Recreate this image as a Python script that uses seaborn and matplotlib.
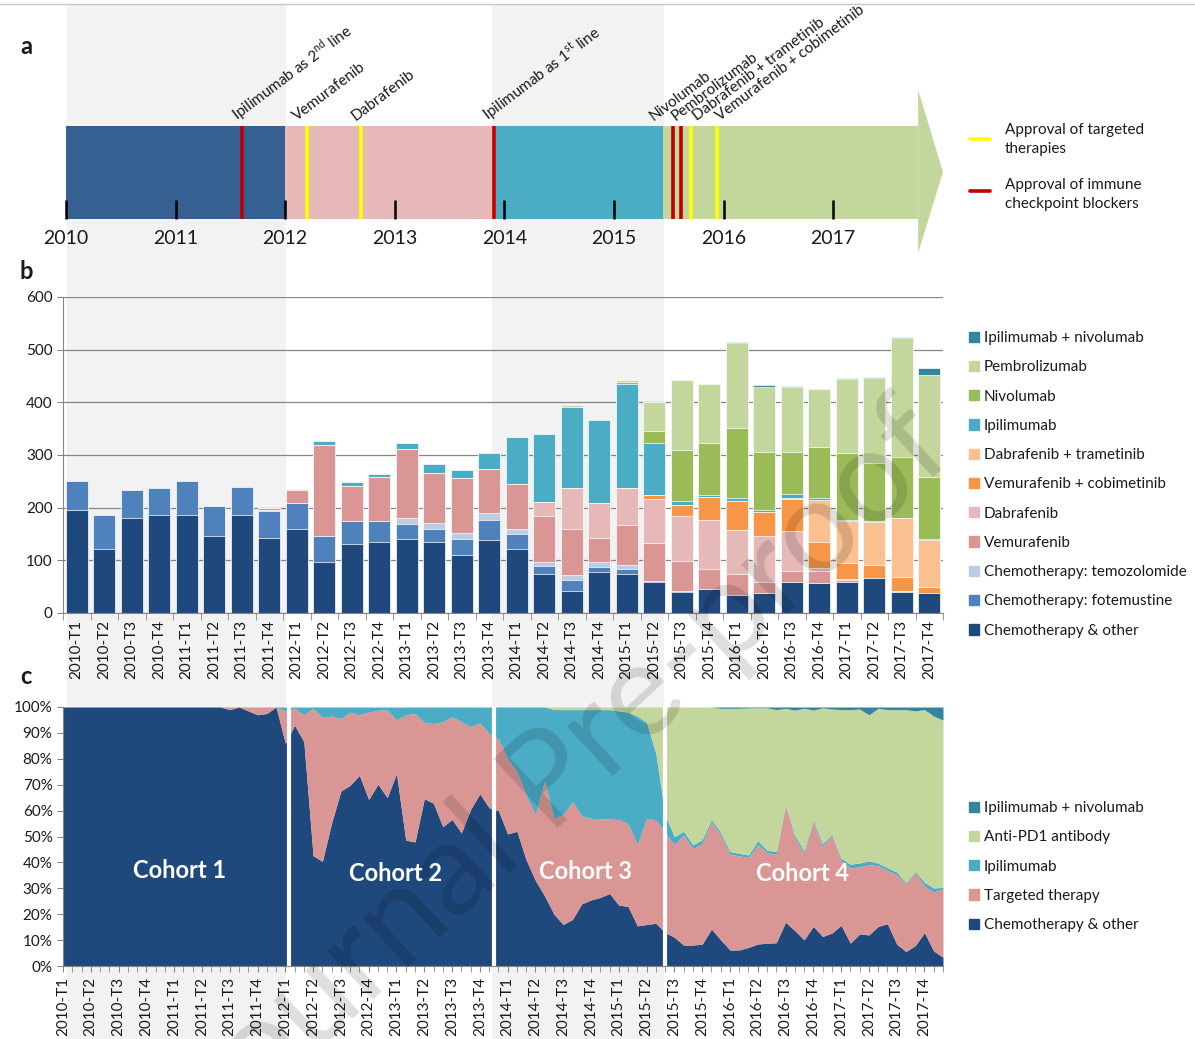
import numpy as np
import pandas as pd
import seaborn as sns
import matplotlib.pyplot as plt
from matplotlib.patches import Rectangle, Polygon, Patch
from matplotlib.lines import Line2D

sns.set_style("white")
plt.rcParams['font.family'] = ['Lato', 'DejaVu Sans']
plt.rcParams['mathtext.fontset'] = 'custom'
plt.rcParams['mathtext.rm'] = 'Lato'

# ---------------- data ----------------
periods = [f"{y}-T{t}" for y in range(2010, 2018) for t in range(1, 5)]

# panel a : timeline
era_start = [2010.0, 2012.0, 2013.92, 2015.45]
era_end = [2012.0, 2013.92, 2015.45, 2017.775]
era_colors = ['#376092', '#E6B9B8', '#4BACC6', '#C3D69B']

ev_names = ["Ipilimumab as 2$^{\\mathrm{nd}}$ line", "Vemurafenib", "Dabrafenib",
            "Ipilimumab as 1$^{\\mathrm{st}}$ line", "Nivolumab", "Pembrolizumab",
            "Dabrafenib + trametinib", "Vemurafenib + cobimetinib"]
ev_dates = [2011.606, 2012.20, 2012.69, 2013.905, 2015.54, 2015.61, 2015.70, 2015.94]
ev_kind = ['immune', 'targeted', 'targeted', 'immune', 'immune', 'immune', 'targeted', 'targeted']
ev_label_x = [2011.56, 2012.11, 2012.64, 2013.85, 2015.36, 2015.56, 2015.76, 2015.97]

# panel b : patients per period
chemo_other = [196, 121, 180, 186, 187, 147, 187, 143, 159, 97, 131, 134, 141, 134, 110, 138,
               122, 74, 41, 77, 74, 59, 40, 46, 34, 38, 59, 57, 58, 66, 39, 38]
fotemustine = [54, 66, 53, 51, 63, 56, 52, 50, 49, 50, 43, 40, 28, 25, 30, 38,
               28, 15, 22, 10, 10, 2, 1, 0, 0, 0, 0, 0, 0, 0, 0, 0]
temozolomide = [0, 0, 0, 0, 0, 0, 0, 2, 0, 0, 0, 0, 11, 12, 12, 14,
                10, 7, 10, 9, 7, 0, 0, 0, 0, 0, 0, 0, 0, 0, 0, 0]
vemurafenib = [0, 0, 0, 0, 0, 0, 3, 5, 25, 172, 67, 85, 131, 95, 105, 84,
               85, 89, 87, 47, 77, 71, 57, 38, 40, 21, 21, 22, 5, 1, 2, 0]
dabrafenib = [0, 0, 0, 0, 0, 0, 0, 0, 0, 0, 0, 0, 0, 0, 0, 0,
              0, 25, 77, 66, 69, 84, 87, 93, 84, 88, 75, 6, 2, 0, 0, 0]
vemu_cobi = [0, 0, 0, 0, 0, 0, 0, 0, 0, 0, 0, 0, 0, 0, 0, 0,
             0, 0, 0, 0, 0, 9, 21, 44, 55, 44, 62, 50, 30, 24, 27, 11]
dabra_trame = [0, 0, 0, 0, 0, 0, 0, 0, 0, 0, 0, 0, 0, 0, 0, 0,
               0, 0, 0, 0, 0, 0, 0, 0, 0, 0, 2, 79, 80, 82, 112, 90]
ipilimumab = [0, 0, 0, 0, 0, 0, 0, 0, 2, 8, 8, 4, 11, 17, 15, 29,
              89, 130, 155, 157, 197, 98, 7, 4, 5, 5, 7, 4, 2, 2, 1, 2]
nivolumab = [0, 0, 0, 0, 0, 0, 0, 0, 0, 0, 0, 0, 0, 0, 0, 0,
             0, 0, 0, 0, 4, 23, 97, 98, 133, 110, 80, 98, 127, 110, 115, 118]
pembrolizumab = [0, 0, 0, 0, 0, 0, 0, 0, 0, 0, 0, 0, 0, 0, 0, 0,
                 0, 0, 2, 2, 5, 55, 132, 112, 162, 124, 124, 109, 141, 162, 226, 192]
ipi_nivo = [0, 0, 0, 0, 0, 0, 0, 0, 0, 0, 0, 0, 0, 0, 0, 0,
            0, 0, 0, 0, 0, 0, 0, 0, 2, 2, 1, 1, 1, 2, 2, 14]

b_series = ["Chemotherapy & other", "Chemotherapy: fotemustine", "Chemotherapy: temozolomide",
            "Vemurafenib", "Dabrafenib", "Vemurafenib + cobimetinib", "Dabrafenib + trametinib",
            "Ipilimumab", "Nivolumab", "Pembrolizumab", "Ipilimumab + nivolumab"]
b_colors = ['#1F497D', '#4F81BD', '#B9CDE5', '#D99694', '#E6B9B8', '#F79646', '#FAC090',
            '#4BACC6', '#9BBB59', '#C3D69B', '#31859C']

# panel c : monthly share (%)
pc_chemo = ([100] * 18 + [99, 100, 98.5, 97, 97.5, 100, 86]
            + [93, 86.6, 42.6, 40.4, 55.3, 67.6, 69.8, 73.6, 64.3, 70.2, 65, 74.4, 48.6, 47.9,
               64.6, 62.8, 53.8, 56.6, 51.4, 60.5, 66.5, 61.1]
            + [60, 51, 52, 41, 33, 27, 20, 16, 18, 24, 25.5, 26.5, 28, 23.5, 23, 15.5, 16, 16.5]
            + [12.9, 11.1, 8.1, 8.1, 8.4, 14.3, 10.1, 6.2, 6.2, 7.2, 8.5, 8.8, 9.0, 16.9, 13.7,
               10.1, 15.3, 11.4, 12.7, 15.7, 8.8, 12.4, 12.0, 15.3, 16.3, 8.5, 5.6, 7.9, 12.9,
               5.8, 3.4])
pc_targeted = ([0] * 18 + [1, 0, 1.5, 3, 2.5, 0, 12.5]
               + [6.5, 10.4, 56.9, 55.6, 41.2, 28, 28.2, 23.4, 33.7, 28.6, 33.8, 20.6, 48.4, 49.6,
                  29.4, 30.8, 40.5, 39.7, 42.9, 32, 27.3, 28.7]
               + [27.8, 29, 23, 25, 25.5, 44.5, 37, 42.5, 45.5, 34, 31.5, 30.3, 28.8, 33, 32,
                  31.5, 41, 40]
               + [38.5, 35.8, 42.4, 37.2, 38.9, 41.3, 40.4, 37, 36.3, 34.7, 38.4, 34.9, 34.2,
                  44.9, 35.8, 33.4, 40.7, 34.9, 37.7, 24.9, 29, 25.9, 27.1, 23.4, 20.6, 26.8,
                  26.1, 28.1, 17.9, 22.8, 26.5])
pc_ipi = ([0] * 24 + [1.5]
          + [0.5, 3, 0.5, 4, 3.5, 4.4, 2, 3, 2, 1.2, 1.2, 5, 3, 2.5, 6, 6.4, 5.7, 3.7, 5.7,
             7.5, 6.2, 10.2]
          + [12.2, 20, 25, 34, 41.5, 28.5, 42, 40.5, 35.5, 41, 42, 42.2, 42.2, 42, 43, 49.5,
             37, 25.5]
          + [7, 3, 1.5, 1.5, 1.5, 1, 1, 1, 1, 1, 1.5, 1, 1, 0.5, 1, 1, 0.5, 1, 0.5, 1, 1.5,
             1.5, 1.5, 1, 1, 1, 0.5, 0.5, 1.5, 1.5, 0.5])
pc_antipd1 = ([0] * 53 + [1] * 7 + [1.5, 2, 3.5, 6, 18]
              + [41.6, 50.1, 48, 53.2, 51.2, 43.4, 48, 55.3, 56, 56.8, 51.3, 55, 54.8, 37.2,
                 48.3, 55, 42.3, 52.4, 48.3, 57.4, 59.7, 59.4, 56.4, 59.8, 61.1, 62.7, 66.8,
                 62, 66.7, 66.4, 64.6])
pc_ipinivo = ([0] * 71
              + [0.5, 0.5, 0.5, 0.3, 0.3, 0.3, 1, 0.5, 1.2, 0.5, 1.2, 0.3, 0.8, 1, 1, 0.8, 3,
                 0.5, 1, 1, 1, 1.5, 1, 3.5, 5])
c_series = ["Chemotherapy & other", "Targeted therapy", "Ipilimumab", "Anti-PD1 antibody",
            "Ipilimumab + nivolumab"]
c_colors = ['#1F497D', '#D99694', '#4BACC6', '#C3D69B', '#31859C']
cohort_gaps = [24.4, 46.55, 64.95]
cohorts = ["Cohort 1", "Cohort 2", "Cohort 3", "Cohort 4"]
cohort_pos = [(12.6, 36.8), (35.9, 35.7), (56.4, 36.4), (79.8, 35.7)]

# ---------------- layout helpers ----------------
W, H = 1195, 1039
fig = plt.figure(figsize=(W / 100, H / 100), dpi=100)


def fx(px):
    return px / W


def fy(py):
    return 1 - py / H


def yr(px):
    return 2010 + (px - 66) / 109.6


grey = '#868686'
txt = '#1a1a1a'

# shaded periods behind everything
for x0, x1 in [(66.7, 285.7), (492.3, 663.7)]:
    fig.add_artist(Rectangle((fx(x0), 0), fx(x1) - fx(x0), fy(5), transform=fig.transFigure,
                             color='#F2F2F2', lw=0, zorder=-5))
# thin frame line at the top of the page
fig.add_artist(Line2D([0, 1], [fy(4), fy(4)], transform=fig.transFigure, color='#C8C8C8',
                      lw=1, zorder=-4))

# ---------------- panel a ----------------
ax_a = fig.add_axes([0, fy(260), 1, 260 / H])
ax_a.set_xlim(yr(0), yr(W))
ax_a.set_ylim(260, 0)
ax_a.axis('off')

for s, e, c in zip(era_start, era_end, era_colors):
    ax_a.add_patch(Rectangle((s, 126), e - s, 93, color=c, lw=0))
ax_a.add_patch(Polygon([(era_end[-1], 90), (yr(943), 172), (era_end[-1], 253)],
                       closed=True, color=era_colors[-1], lw=0))

kind_col = {'immune': '#C00000', 'targeted': '#FFFF00'}
ax_a.vlines(ev_dates, 126, 219, colors=[kind_col[k] for k in ev_kind], lw=2.6)
for name, lx in zip(ev_names, ev_label_x):
    ax_a.text(lx, 121, name, rotation=37, rotation_mode='anchor', ha='left', va='baseline',
              fontsize=11, color=txt)

for y in range(2010, 2018):
    ax_a.vlines(y, 200, 219, color='black', lw=1.8)
    ax_a.text(y, 238, str(y), ha='center', va='center', fontsize=14, color=txt)

ax_a.plot([yr(970), yr(990)], [139, 139], color=kind_col['targeted'], lw=2.6)
ax_a.text(yr(1005), 139.5, "Approval of targeted\ntherapies", va='center', fontsize=11,
          linespacing=1.4, color=txt)
ax_a.plot([yr(970), yr(990)], [191, 191], color=kind_col['immune'], lw=2.6)
ax_a.text(yr(1005), 194.5, "Approval of immune\ncheckpoint blockers", va='center', fontsize=11,
          linespacing=1.4, color=txt)

# ---------------- panel b ----------------
ax_b = fig.add_axes([fx(63), fy(613), 880 / W, 316 / H])
ax_b.patch.set_alpha(0)
df_b = pd.DataFrame(dict(zip(b_series, [chemo_other, fotemustine, temozolomide, vemurafenib,
                                        dabrafenib, vemu_cobi, dabra_trame, ipilimumab,
                                        nivolumab, pembrolizumab, ipi_nivo])), index=periods)
cum_b = df_b.cumsum(axis=1)
for name, col in reversed(list(zip(b_series, b_colors))):
    sns.barplot(x=periods, y=cum_b[name].values, order=periods, color=col, saturation=1,
                width=0.8, errorbar=None, edgecolor='white', linewidth=0.5, ax=ax_b)

ax_b.set_xlim(-0.5, 31.5)
ax_b.set_ylim(0, 600)
ax_b.set_yticks(range(0, 601, 100))
ax_b.yaxis.grid(True, color=grey, lw=0.9)
ax_b.set_axisbelow(True)
sns.despine(ax=ax_b)
for sp in ['left', 'bottom']:
    ax_b.spines[sp].set_color(grey)
ax_b.set_xticks(np.arange(-0.5, 32, 1), minor=True)
ax_b.tick_params(axis='x', which='major', length=0, labelsize=11, labelrotation=90, pad=5,
                 labelcolor=txt)
ax_b.tick_params(axis='x', which='minor', bottom=True, length=5, color=grey)
ax_b.tick_params(axis='y', left=True, length=4, color=grey, labelsize=11, labelcolor=txt)
ax_b.set_xlabel('')
ax_b.set_ylabel('')

hb = [Patch(color=c) for c in b_colors][::-1]
fig.legend(hb, b_series[::-1], loc='upper left', bbox_to_anchor=(fx(969), fy(331)),
           frameon=False, fontsize=11, handlelength=0.65, handleheight=0.65,
           handletextpad=0.3, labelspacing=1.0, borderpad=0, borderaxespad=0,
           labelcolor=txt)

# ---------------- panel c ----------------
ax_c = fig.add_axes([fx(63), fy(966), 880 / W, 259 / H])
ax_c.patch.set_alpha(0)
months = np.arange(len(pc_chemo))
shares = np.array([pc_chemo, pc_targeted, pc_ipi, pc_antipd1, pc_ipinivo], dtype=float)
shares = shares / shares.sum(axis=0) * 100
ax_c.stackplot(months, shares, colors=c_colors, lw=0)
for g in cohort_gaps:
    ax_c.axvline(g, color='white', lw=3)
for lab, (cx, cy) in zip(cohorts, cohort_pos):
    ax_c.text(cx, cy, lab, color='white', fontsize=17, fontweight='bold', ha='center',
              va='center')

ax_c.set_xlim(0, 95)
ax_c.set_ylim(0, 100)
ax_c.set_yticks(range(0, 101, 10))
ax_c.set_yticklabels([f"{v}%" for v in range(0, 101, 10)])
ax_c.set_xticks(months[::3])
ax_c.set_xticklabels(periods)
ax_c.set_xticks(months, minor=True)
sns.despine(ax=ax_c)
for sp in ['left', 'bottom']:
    ax_c.spines[sp].set_color(grey)
ax_c.tick_params(axis='x', which='both', bottom=True, length=4, color=grey)
ax_c.tick_params(axis='x', which='major', labelsize=11, labelrotation=90, labelcolor=txt)
ax_c.tick_params(axis='y', left=True, length=4, color=grey, labelsize=11, labelcolor=txt)

hc = [Patch(color=c) for c in c_colors][::-1]
fig.legend(hc, c_series[::-1], loc='upper left', bbox_to_anchor=(fx(969), fy(801)),
           frameon=False, fontsize=11, handlelength=0.65, handleheight=0.65,
           handletextpad=0.3, labelspacing=1.0, borderpad=0, borderaxespad=0,
           labelcolor=txt)

# panel letters
for lab, py in [('a', 46), ('b', 272), ('c', 676)]:
    fig.text(fx(26), fy(py), lab, fontsize=17, fontweight='bold', ha='center', va='center',
             color=txt)

# journal watermark (runs off the page bottom, as in the source)
fig.text(fx(563), fy(772), "Journal Pre-proof", rotation=43, fontsize=94, color='black',
         alpha=0.13, ha='center', va='center', zorder=10)

fig.savefig('out.png', dpi=100)
